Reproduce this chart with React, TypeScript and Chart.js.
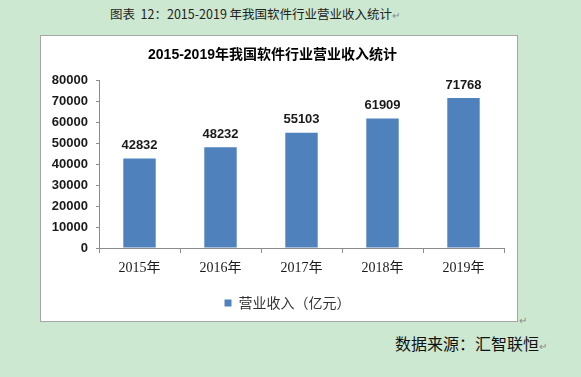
import React, { useEffect, useRef } from "react";
import { Chart, registerables } from "chart.js";

Chart.register(...registerables);

const categories = ["2015年", "2016年", "2017年", "2018年", "2019年"];
const revenue = [42832, 48232, 55103, 61909, 71768];
const seriesName = "营业收入（亿元）";
const chartTitle = "2015-2019年我国软件行业营业收入统计";
const pageTitle = "图表  12：2015-2019 年我国软件行业营业收入统计";
const sourceText = "数据来源：汇智联恒";
const yMin = 0;
const yMax = 80000;
const yStep = 10000;

const numFont = '"Liberation Sans", "Noto Sans CJK SC", sans-serif';
const cjkFont = '"Noto Sans CJK SC", "Liberation Sans", sans-serif';
const serifFont = '"Liberation Serif", "Noto Sans CJK SC", serif';

const dataLabelPlugin = {
  id: "dataLabels",
  afterDatasetsDraw(chart: any) {
    const ctx = chart.ctx;
    const meta = chart.getDatasetMeta(0);
    ctx.save();
    ctx.font = "bold 13px " + numFont;
    ctx.fillStyle = "#1a1a1a";
    ctx.textAlign = "center";
    ctx.textBaseline = "middle";
    meta.data.forEach((bar: any, i: number) => {
      const v = chart.data.datasets[0].data[i];
      ctx.fillText(String(v), bar.x, bar.y - 13);
    });
    ctx.restore();
  },
};

const legendShiftPlugin = {
  id: "legendShift",
  afterLayout(chart: any) {
    const lg = chart.legend;
    if (lg) {
      lg.left += 15;
      lg.right += 15;
    }
  },
};

export default function App() {
  const ref = useRef<HTMLCanvasElement | null>(null);

  useEffect(() => {
    if (!ref.current) return;
    const chart = new Chart(ref.current, {
      type: "bar",
      data: {
        labels: categories,
        datasets: [
          {
            label: seriesName,
            data: revenue,
            backgroundColor: "#4f81bd",
            borderWidth: 0,
            barPercentage: 0.4,
            categoryPercentage: 1,
          },
        ],
      },
      options: {
        animation: false,
        responsive: false,
        maintainAspectRatio: false,
        layout: { padding: { left: 0, right: 13, top: 0, bottom: 1 } },
        plugins: {
          title: {
            display: true,
            text: chartTitle,
            color: "#000",
            font: { family: numFont, size: 14, weight: "bold" },
            padding: { top: 10.5, bottom: 17.5 },
          },
          legend: {
            display: true,
            position: "bottom",
            labels: {
              boxWidth: 7,
              boxHeight: 7,
              color: "#333",
              font: { family: cjkFont, size: 14 },
              padding: 10,
            },
          },
          tooltip: { enabled: false },
        },
        scales: {
          x: {
            grid: {
              display: true,
              drawOnChartArea: false,
              drawTicks: true,
              tickLength: 5,
              color: "#8c8c8c",
            },
            border: { display: true, color: "#8c8c8c" },
            ticks: {
              color: "#1a1a1a",
              font: { family: serifFont, size: 14 },
              padding: 7,
              maxRotation: 0,
            },
            afterFit: (s: any) => {
              s.height = 38;
            },
          },
          y: {
            min: yMin,
            max: yMax,
            grid: {
              display: true,
              drawOnChartArea: false,
              drawTicks: true,
              tickLength: 3,
              color: "#8c8c8c",
            },
            border: { display: true, color: "#8c8c8c" },
            ticks: {
              stepSize: yStep,
              color: "#1a1a1a",
              font: { family: numFont, size: 13, weight: "bold" },
              padding: 8,
              callback: (v: any) => String(v),
            },
            afterFit: (s: any) => {
              s.width = 58;
            },
          },
        },
      },
      plugins: [dataLabelPlugin, legendShiftPlugin],
    });
    return () => chart.destroy();
  }, []);

  return (
    <div
      style={{
        position: "fixed",
        left: 0,
        top: 0,
        width: 581,
        height: 377,
        background: "#cde8d0",
        overflow: "hidden",
      }}
    >
      <div
        style={{
          position: "absolute",
          left: 110,
          top: 5,
          height: 18,
          lineHeight: "18px",
          fontFamily: cjkFont,
          fontSize: 12.5,
          color: "#222",
          whiteSpace: "pre",
        }}
      >
        {pageTitle}
        <span style={{ color: "#888", fontSize: 10 }}>↵</span>
      </div>
      <div
        style={{
          position: "absolute",
          left: 40,
          top: 35,
          width: 478,
          height: 287,
          boxSizing: "border-box",
          border: "1px solid #a6a6a6",
          background: "#fff",
        }}
      >
        <canvas
          ref={ref}
          width={476}
          height={285}
          style={{ position: "absolute", left: 0, top: 0, width: 476, height: 285 }}
        />
      </div>
      <div
        style={{
          position: "absolute",
          left: 519,
          top: 314,
          fontSize: 10,
          lineHeight: "12px",
          color: "#888",
          fontFamily: cjkFont,
        }}
      >
        ↵
      </div>
      <div
        style={{
          position: "absolute",
          left: 395,
          top: 333,
          height: 20,
          lineHeight: "20px",
          fontFamily: cjkFont,
          fontSize: 16,
          color: "#111",
          whiteSpace: "pre",
        }}
      >
        {sourceText}
        <span style={{ color: "#888", fontSize: 10 }}>↵</span>
      </div>
    </div>
  );
}
